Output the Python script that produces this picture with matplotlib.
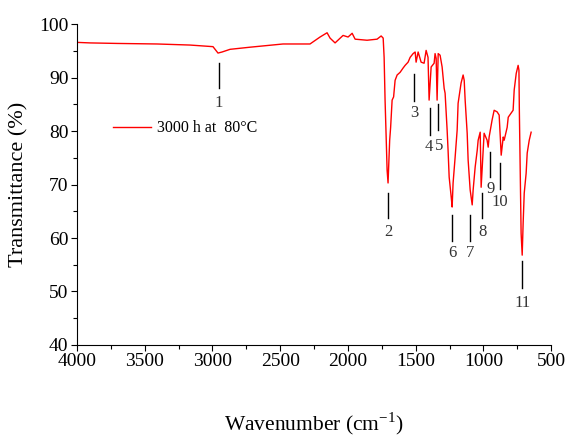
import numpy as np
import matplotlib
matplotlib.use("Agg")
from matplotlib import pyplot as plt
from matplotlib.ticker import MultipleLocator

plt.rcParams['font.family'] = ['Liberation Serif', 'DejaVu Serif']
plt.rcParams['mathtext.fontset'] = 'custom'
plt.rcParams['mathtext.rm'] = 'Liberation Serif'

# spectrum (wavenumber, transmittance)
wavenumber = [4000, 3904, 3700, 3409, 3166, 2996, 2959, 2929, 2870, 2722, 2479, 2280,
              2206, 2154, 2132, 2095, 2036, 1999, 1969, 1947, 1859, 1785, 1755, 1740,
              1733, 1726, 1718, 1711, 1704, 1692, 1685, 1674, 1663, 1652, 1637, 1615,
              1593, 1578, 1556, 1541, 1519, 1504, 1497, 1482, 1460, 1438, 1423, 1409,
              1401, 1386, 1364, 1357, 1349, 1342, 1334, 1320, 1305, 1290, 1283, 1268,
              1261, 1253, 1238, 1231, 1224, 1209, 1194, 1187, 1165, 1150, 1142, 1135,
              1120, 1113, 1098, 1083, 1076, 1061, 1046, 1039, 1024, 1017, 1002, 995,
              973, 965, 958, 936, 921, 899, 884, 869, 854, 847, 825, 817, 795, 781,
              773, 758, 744, 738, 735, 729, 722, 714, 707, 699, 685, 677, 662, 648]
transmittance = [96.6, 96.5, 96.4, 96.3, 96.1, 95.8, 94.6, 94.8, 95.3, 95.7, 96.3, 96.3,
                 97.6, 98.4, 97.4, 96.5, 97.9, 97.6, 98.3, 97.2, 97.0, 97.2, 97.8, 97.4,
                 93.8, 85.8, 78.9, 72.7, 70.3, 78.3, 80.7, 85.8, 86.4, 89.5, 90.5, 91.0,
                 91.8, 92.3, 92.9, 93.8, 94.5, 94.8, 92.9, 94.8, 92.9, 92.7, 95.1, 93.8,
                 85.8, 92.0, 92.7, 94.5, 93.6, 85.8, 94.5, 94.2, 92.0, 88.0, 87.1, 80.2,
                 76.4, 71.4, 67.7, 65.8, 70.3, 75.1, 80.2, 85.2, 89.0, 90.5, 89.5, 85.8,
                 79.6, 74.6, 69.0, 66.2, 69.0, 73.3, 76.4, 78.3, 79.8, 69.5, 76.4, 79.6,
                 78.3, 77.0, 78.9, 82.1, 83.9, 83.6, 83.0, 75.5, 78.9, 78.3, 80.7, 82.6,
                 83.4, 83.9, 87.7, 90.8, 92.3, 91.4, 83.9, 73.3, 60.9, 56.8, 62.8, 68.4,
                 72.1, 75.9, 78.3, 79.8]

# peak markers: position, line top, line bottom, label y
peak_labels = ['1', '2', '3', '4', '5', '6', '7', '8', '9', '10', '11']
peak_wn = [2951, 1704, 1512, 1393, 1334, 1231, 1098, 1010, 950, 877, 714]
peak_top = [92.7, 68.4, 90.7, 84.3, 85.0, 64.3, 64.3, 68.4, 76.1, 74.0, 55.7]
peak_bottom = [88.0, 63.7, 85.6, 79.3, 80.2, 59.4, 59.4, 63.7, 71.4, 69.2, 50.7]
label_y = [85.2, 61.1, 83.4, 77.0, 77.2, 57.2, 57.2, 61.1, 69.2, 66.8, 47.9]
label_wn = [2951, 1704, 1512, 1405, 1330, 1231, 1098, 1010, 950, 877, 714]

fig = plt.figure(figsize=(5.7, 4.4), dpi=100)
ax = fig.add_axes([0.135, 0.216, 0.832, 0.729])

ax.plot(wavenumber, transmittance, color='red', lw=1.0, label='3000 h at  80°C')

for i in range(len(peak_labels)):
	ax.plot([peak_wn[i], peak_wn[i]], [peak_bottom[i], peak_top[i]], color='black', lw=1.0)
	ax.text(label_wn[i], label_y[i], peak_labels[i], ha='center', va='center',
			fontsize=12, color='#333333')

ax.set_xlim(4000, 500)
ax.set_ylim(40, 100)
ax.xaxis.set_major_locator(MultipleLocator(500))
ax.xaxis.set_minor_locator(MultipleLocator(250))
ax.yaxis.set_major_locator(MultipleLocator(10))
ax.yaxis.set_minor_locator(MultipleLocator(5))
ax.tick_params(which='major', direction='out', length=4, width=0.8, labelsize=14, pad=2)
ax.tick_params(which='minor', direction='out', length=3, width=0.8)
ax.spines['top'].set_visible(False)
ax.spines['right'].set_visible(False)

ax.set_xlabel(r'Wavenumber (cm$^{-1}$)', fontsize=15.5, va='center')
ax.xaxis.set_label_coords(0.5, -0.245)
ax.set_ylabel('Transmittance (%)', fontsize=16, va='center')
ax.yaxis.set_label_coords(-0.122, 0.5)

ax.legend(loc='center left', bbox_to_anchor=(0.045, 0.676), frameon=False,
		  fontsize=11.5, handlelength=2.4, handletextpad=0.4)

fig.savefig('out.png', dpi=100)
